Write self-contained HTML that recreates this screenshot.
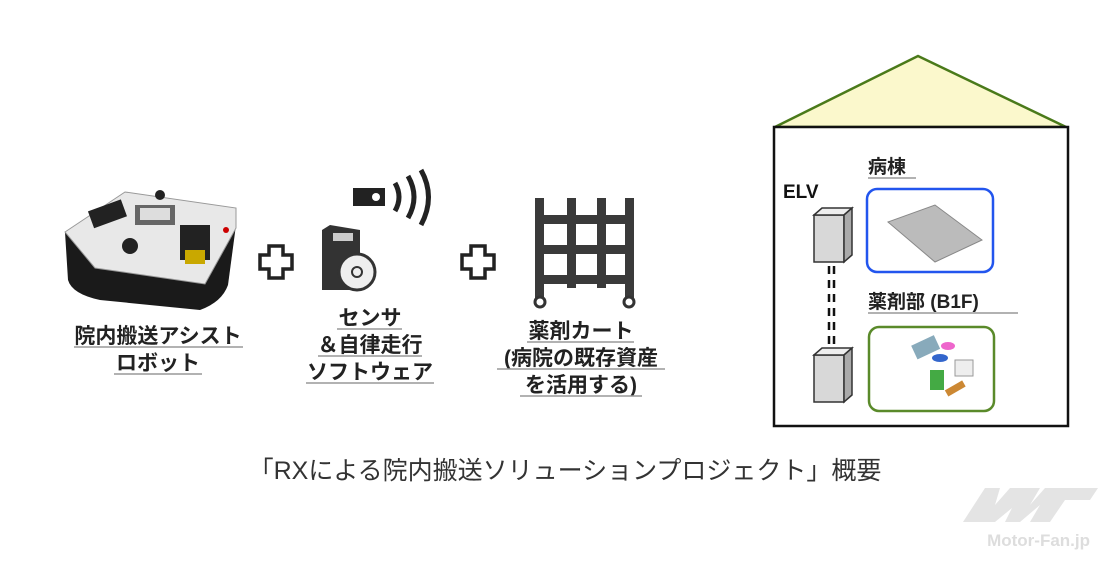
<!DOCTYPE html><html><head><meta charset="utf-8"><style>
body{margin:0;width:1107px;height:561px;background:#fff;overflow:hidden;font-family:"Liberation Sans","Noto Sans CJK JP",sans-serif}
</style></head><body>
<svg width="1107" height="561" viewBox="0 0 1107 561" xmlns="http://www.w3.org/2000/svg" font-family="Liberation Sans, Noto Sans CJK JP, sans-serif">
<!-- robot -->
<path d="M65 232 L68 280 Q72 294 100 300 L200 310 Q222 302 228 285 L236 225 Z" fill="#1a1a1a"/>
<path d="M65 232 L125 192 L236 208 L236 228 L205 284 L95 268 Z" fill="#e8e8e8" stroke="#999"/>
<rect x="135" y="205" width="40" height="20" fill="#666"/><rect x="140" y="208" width="30" height="12" fill="#ddd"/>
<rect x="90" y="205" width="35" height="18" fill="#222" transform="rotate(-20 107 214)"/>
<rect x="180" y="225" width="30" height="35" fill="#222"/>
<rect x="185" y="250" width="20" height="14" fill="#c9a800"/>
<circle cx="130" cy="246" r="8" fill="#222"/><circle cx="160" cy="195" r="5" fill="#222"/>
<circle cx="226" cy="230" r="3" fill="#c00"/>
<!-- plus -->
<g fill="#fff" stroke="#222" stroke-width="3.5">
<path d="M269 246h14v9h9v14h-9v9h-14v-9h-9v-14h9z"/>
<path d="M471 246h14v9h9v14h-9v9h-14v-9h-9v-14h9z"/>
</g>
<!-- sensor -->
<rect x="353" y="188" width="32" height="18" fill="#222"/><circle cx="376" cy="197" r="4" fill="#fff"/>
<g fill="none" stroke="#222" stroke-width="5"><path d="M395 183 Q403 197 395 211"/><path d="M408 176 Q420 197 408 218"/><path d="M421 170 Q436 197 421 225"/></g>
<path d="M322 230 L330 225 L360 230 L360 290 L322 290 Z" fill="#333"/>
<rect x="333" y="233" width="20" height="8" fill="#ccc"/>
<circle cx="357" cy="272" r="18" fill="#eee" stroke="#333" stroke-width="3"/><circle cx="357" cy="272" r="5" fill="none" stroke="#333" stroke-width="2"/>
<!-- cart -->
<g fill="#3a3a3a"><rect x="535" y="198" width="9" height="100"/><rect x="567" y="198" width="9" height="90"/><rect x="597" y="198" width="9" height="90"/><rect x="625" y="198" width="9" height="100"/>
<rect x="535" y="215" width="99" height="9"/><rect x="535" y="245" width="99" height="9"/><rect x="535" y="275" width="99" height="9"/></g>
<circle cx="540" cy="302" r="5" fill="#fff" stroke="#333" stroke-width="3"/><circle cx="629" cy="302" r="5" fill="#fff" stroke="#333" stroke-width="3"/>
<!-- labels -->
<g font-weight="bold" font-size="21" fill="#222" text-anchor="middle">
<text x="158" y="343">院内搬送アシスト</text><text x="158" y="370">ロボット</text>
<text x="370" y="325">センサ</text><text x="370" y="352">＆自律走行</text><text x="370" y="379">ソフトウェア</text>
<text x="581" y="338">薬剤カート</text><text x="581" y="365">(病院の既存資産</text><text x="581" y="392">を活用する)</text>
</g>
<g stroke="#999" stroke-width="1.5">
<line x1="74" y1="347" x2="243" y2="347"/><line x1="114" y1="374" x2="202" y2="374"/>
<line x1="337" y1="329" x2="402" y2="329"/><line x1="318" y1="356" x2="422" y2="356"/><line x1="306" y1="383" x2="434" y2="383"/>
<line x1="527" y1="342" x2="634" y2="342"/><line x1="497" y1="369" x2="665" y2="369"/><line x1="520" y1="396" x2="642" y2="396"/>
</g>
<!-- house -->
<path d="M775 127 L918 56 L1066 127 Z" fill="#fbf8cc" stroke="#4a7a1a" stroke-width="2.5"/>
<rect x="774" y="127" width="294" height="299" fill="#fff" stroke="#111" stroke-width="2.5"/>
<text x="783" y="198" font-weight="bold" font-size="19" fill="#111">ELV</text>
<g font-weight="bold" font-size="19" fill="#222"><text x="868" y="173">病棟</text><text x="868" y="308">薬剤部 (B1F)</text></g>
<line x1="868" y1="178" x2="916" y2="178" stroke="#999" stroke-width="1.5"/><line x1="868" y1="313" x2="1018" y2="313" stroke="#999" stroke-width="1.5"/>
<rect x="867" y="189" width="126" height="83" rx="10" fill="#fff" stroke="#2255ee" stroke-width="2.5"/>
<rect x="869" y="327" width="125" height="84" rx="10" fill="#fff" stroke="#5a8a2a" stroke-width="2.5"/>
<path d="M888 222 L935 205 L982 240 L935 262 Z" fill="#bbb" stroke="#888"/>
<g stroke="#333" stroke-width="1.5"><rect x="814" y="215" width="30" height="47" fill="#d8d8d8"/><path d="M814 215 l8-7 h30 l-8 7z" fill="#eee"/><path d="M844 215 l8-7 v47 l-8 7z" fill="#aaa"/>
<rect x="814" y="355" width="30" height="47" fill="#d8d8d8"/><path d="M814 355 l8-7 h30 l-8 7z" fill="#eee"/><path d="M844 355 l8-7 v47 l-8 7z" fill="#aaa"/></g>
<g stroke="#111" stroke-width="2.5" stroke-dasharray="8 6"><line x1="829" y1="266" x2="829" y2="345"/><line x1="834" y1="266" x2="834" y2="345"/></g>
<rect x="913" y="340" width="25" height="15" fill="#8ab" transform="rotate(-25 925 347)"/>
<rect x="930" y="370" width="14" height="20" fill="#4a4"/><ellipse cx="940" cy="358" rx="8" ry="4" fill="#36c"/>
<ellipse cx="948" cy="346" rx="7" ry="4" fill="#e6c"/><rect x="955" y="360" width="18" height="16" fill="#eee" stroke="#999"/>
<rect x="945" y="385" width="20" height="7" fill="#c83" transform="rotate(-30 955 388)"/>
<!-- caption -->
<text x="565" y="479" text-anchor="middle" font-size="25" fill="#333">「RXによる院内搬送ソリューションプロジェクト」概要</text>
<text x="1090" y="546" text-anchor="end" font-size="17" font-weight="bold" fill="#ddd">Motor-Fan.jp</text>
<path d="M963 522 L985 488 L1000 488 L995 505 L1010 488 L1040 488 L1030 505 L1045 488 L1098 488 L1090 500 L1065 500 L1050 522 L1030 522 L1040 505 L1020 522 L1005 522 L1012 508 L995 522 Z" fill="#e4e4e4"/>
</svg>
</body></html>
